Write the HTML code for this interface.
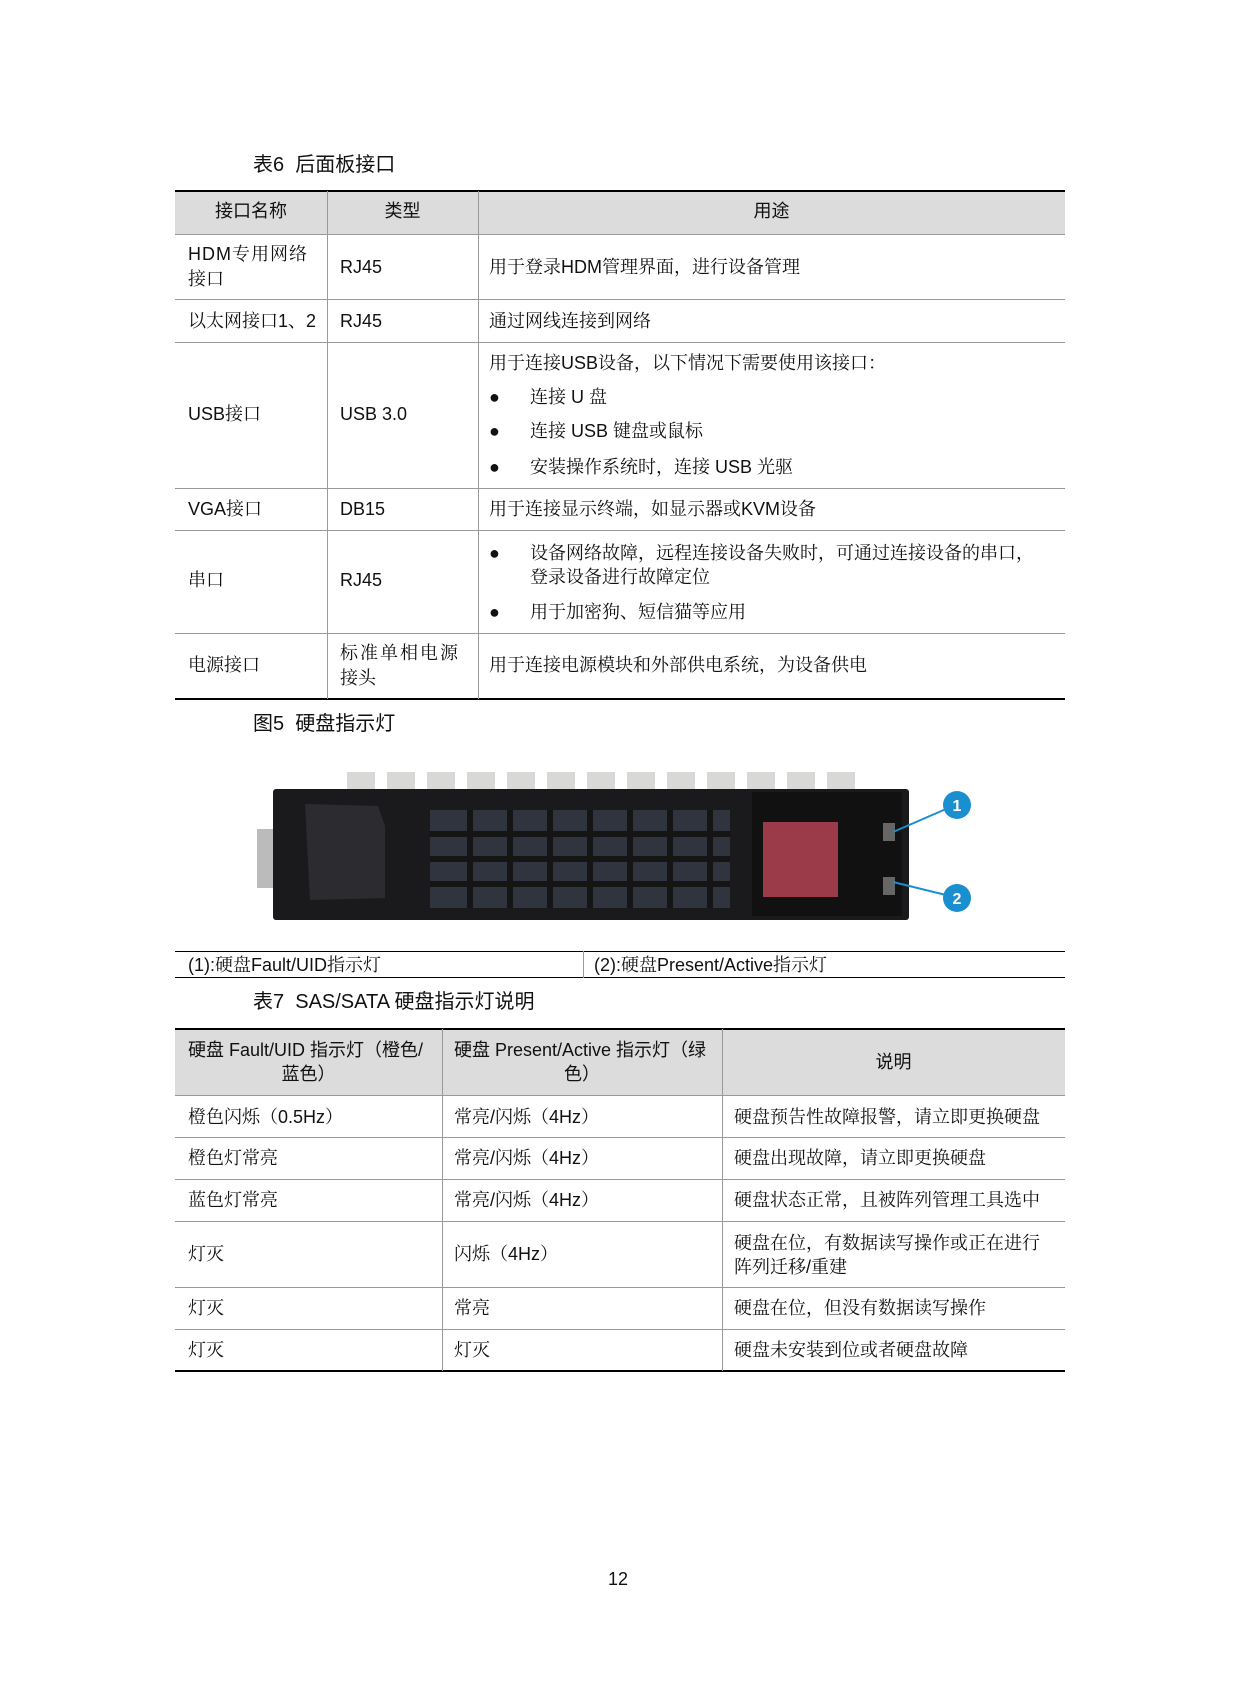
<!DOCTYPE html>
<html><head><meta charset="utf-8"><style>
body{margin:0;background:#fff;}
#p{position:relative;width:1240px;height:1683px;overflow:hidden;font-family:"Liberation Sans","Noto Serif CJK SC",serif;font-size:18px;color:#111;}
.t{position:absolute;white-space:nowrap;line-height:24px;height:24px;}
.h{font-family:"Liberation Sans","Noto Sans CJK SC",sans-serif;}
.ttl{position:absolute;font-family:"Liberation Sans","Noto Sans CJK SC",sans-serif;font-size:20px;line-height:26px;white-space:nowrap;}
.l{position:absolute;background:#999;}
.k{position:absolute;background:#000;}
.bg{position:absolute;background:#dcdcdc;}
</style></head><body><div id="p">

<div class="ttl" style="left:253px;top:152px;">表6&nbsp; 后面板接口</div>
<div class="bg" style="left:175px;top:191px;width:890px;height:43px;"></div>
<div class="k" style="left:175px;top:190px;width:890px;height:2px;"></div>
<div class="l" style="left:175px;top:234px;width:890px;height:1px;"></div>
<div class="l" style="left:175px;top:299px;width:890px;height:1px;"></div>
<div class="l" style="left:175px;top:342px;width:890px;height:1px;"></div>
<div class="l" style="left:175px;top:488px;width:890px;height:1px;"></div>
<div class="l" style="left:175px;top:530px;width:890px;height:1px;"></div>
<div class="l" style="left:175px;top:633px;width:890px;height:1px;"></div>
<div class="k" style="left:175px;top:698px;width:890px;height:2px;"></div>
<div class="l" style="left:327px;top:191px;width:1px;height:508px;"></div>
<div class="l" style="left:478px;top:191px;width:1px;height:508px;"></div>

<div class="t h" style="left:175px;width:152px;text-align:center;top:199px;">接口名称</div>
<div class="t h" style="left:327px;width:151px;text-align:center;top:199px;">类型</div>
<div class="t h" style="left:478px;width:587px;text-align:center;top:199px;">用途</div>

<div class="t" style="left:188px;top:242px;letter-spacing:1px;">HDM专用网络</div>
<div class="t" style="left:188px;top:267px;">接口</div>
<div class="t" style="left:340px;top:255px;">RJ45</div>
<div class="t" style="left:489px;top:255px;">用于登录HDM管理界面，进行设备管理</div>

<div class="t" style="left:188px;top:309px;">以太网接口1、2</div>
<div class="t" style="left:340px;top:309px;">RJ45</div>
<div class="t" style="left:489px;top:309px;">通过网线连接到网络</div>

<div class="t" style="left:188px;top:402px;">USB接口</div>
<div class="t" style="left:340px;top:402px;">USB 3.0</div>
<div class="t" style="left:489px;top:351px;">用于连接USB设备，以下情况下需要使用该接口：</div>
<div class="t" style="left:489px;top:385px;">●</div><div class="t" style="left:530px;top:385px;">连接 U 盘</div>
<div class="t" style="left:489px;top:419px;">●</div><div class="t" style="left:530px;top:419px;">连接 USB 键盘或鼠标</div>
<div class="t" style="left:489px;top:455px;">●</div><div class="t" style="left:530px;top:455px;">安装操作系统时，连接 USB 光驱</div>

<div class="t" style="left:188px;top:497px;">VGA接口</div>
<div class="t" style="left:340px;top:497px;">DB15</div>
<div class="t" style="left:489px;top:497px;">用于连接显示终端，如显示器或KVM设备</div>

<div class="t" style="left:188px;top:568px;">串口</div>
<div class="t" style="left:340px;top:568px;">RJ45</div>
<div class="t" style="left:489px;top:541px;">●</div><div class="t" style="left:530px;top:541px;">设备网络故障，远程连接设备失败时，可通过连接设备的串口，</div>
<div class="t" style="left:530px;top:565px;">登录设备进行故障定位</div>
<div class="t" style="left:489px;top:600px;">●</div><div class="t" style="left:530px;top:600px;">用于加密狗、短信猫等应用</div>

<div class="t" style="left:188px;top:653px;">电源接口</div>
<div class="t" style="left:340px;top:641px;letter-spacing:2px;">标准单相电源</div>
<div class="t" style="left:340px;top:666px;">接头</div>
<div class="t" style="left:489px;top:653px;">用于连接电源模块和外部供电系统，为设备供电</div>

<div class="ttl" style="left:253px;top:711px;">图5&nbsp; 硬盘指示灯</div>

<svg style="position:absolute;left:0;top:0" width="1240" height="1683">
 <g fill="#d8d8d6">
  <rect x="347" y="772" width="28" height="18"/><rect x="387" y="772" width="28" height="18"/><rect x="427" y="772" width="28" height="18"/><rect x="467" y="772" width="28" height="18"/><rect x="507" y="772" width="28" height="18"/><rect x="547" y="772" width="28" height="18"/><rect x="587" y="772" width="28" height="18"/><rect x="627" y="772" width="28" height="18"/><rect x="667" y="772" width="28" height="18"/><rect x="707" y="772" width="28" height="18"/><rect x="747" y="772" width="28" height="18"/><rect x="787" y="772" width="28" height="18"/><rect x="827" y="772" width="28" height="18"/>
 </g>
 <rect x="257" y="829" width="18" height="59" fill="#bbb"/>
 <rect x="273" y="789" width="636" height="131" rx="3" fill="#1a1a1c"/>
 <path d="M305 804 L378 806 L385 826 L385 898 L310 900 Z" fill="#2c2c30"/>
 <rect x="430" y="810" width="300" height="98" fill="#30343f"/>
 <g fill="none" stroke="#151515" stroke-width="6">
  <path d="M430 859 h300 M430 834 h300 M430 884 h300"/>
  <path d="M470 810 v98 M510 810 v98 M550 810 v98 M590 810 v98 M630 810 v98 M670 810 v98 M710 810 v98"/>
 </g>
 <rect x="752" y="792" width="150" height="124" fill="#111"/>
 <rect x="763" y="822" width="75" height="75" fill="#9b3b4a"/>
 <rect x="883" y="823" width="12" height="18" fill="#666"/>
 <rect x="883" y="877" width="12" height="18" fill="#666"/>
 <g stroke="#1a8fd0" stroke-width="2"><line x1="893" y1="832" x2="946" y2="809"/><line x1="893" y1="882" x2="946" y2="895"/></g>
 <circle cx="957" cy="805" r="14" fill="#1a8fd0"/><circle cx="957" cy="898" r="14" fill="#1a8fd0"/>
 <text x="957" y="811" font-family="Liberation Sans" font-weight="bold" font-size="16" fill="#fff" text-anchor="middle">1</text>
 <text x="957" y="904" font-family="Liberation Sans" font-weight="bold" font-size="16" fill="#fff" text-anchor="middle">2</text>
</svg>

<div class="k" style="left:175px;top:951px;width:890px;height:1px;"></div>
<div class="k" style="left:175px;top:977px;width:890px;height:1px;"></div>
<div class="l" style="left:583px;top:951px;width:1px;height:27px;"></div>
<div class="t" style="left:188px;top:953px;">(1):硬盘Fault/UID指示灯</div>
<div class="t" style="left:594px;top:953px;">(2):硬盘Present/Active指示灯</div>

<div class="ttl" style="left:253px;top:989px;">表7&nbsp; SAS/SATA 硬盘指示灯说明</div>
<div class="bg" style="left:175px;top:1029px;width:890px;height:66px;"></div>
<div class="k" style="left:175px;top:1028px;width:890px;height:2px;"></div>
<div class="l" style="left:175px;top:1095px;width:890px;height:1px;"></div>
<div class="l" style="left:175px;top:1137px;width:890px;height:1px;"></div>
<div class="l" style="left:175px;top:1179px;width:890px;height:1px;"></div>
<div class="l" style="left:175px;top:1221px;width:890px;height:1px;"></div>
<div class="l" style="left:175px;top:1287px;width:890px;height:1px;"></div>
<div class="l" style="left:175px;top:1329px;width:890px;height:1px;"></div>
<div class="k" style="left:175px;top:1370px;width:890px;height:2px;"></div>
<div class="l" style="left:442px;top:1029px;width:1px;height:342px;"></div>
<div class="l" style="left:722px;top:1029px;width:1px;height:342px;"></div>

<div class="t h" style="left:188px;top:1038px;">硬盘 Fault/UID 指示灯（橙色/</div>
<div class="t h" style="left:175px;width:267px;text-align:center;top:1062px;">蓝色）</div>
<div class="t h" style="left:454px;top:1038px;">硬盘 Present/Active 指示灯（绿</div>
<div class="t h" style="left:442px;width:280px;text-align:center;top:1062px;">色）</div>
<div class="t h" style="left:722px;width:343px;text-align:center;top:1050px;">说明</div>

<div class="t" style="left:188px;top:1105px;">橙色闪烁（0.5Hz）</div>
<div class="t" style="left:454px;top:1105px;">常亮/闪烁（4Hz）</div>
<div class="t" style="left:734px;top:1105px;">硬盘预告性故障报警，请立即更换硬盘</div>
<div class="t" style="left:188px;top:1146px;">橙色灯常亮</div>
<div class="t" style="left:454px;top:1146px;">常亮/闪烁（4Hz）</div>
<div class="t" style="left:734px;top:1146px;">硬盘出现故障，请立即更换硬盘</div>
<div class="t" style="left:188px;top:1188px;">蓝色灯常亮</div>
<div class="t" style="left:454px;top:1188px;">常亮/闪烁（4Hz）</div>
<div class="t" style="left:734px;top:1188px;">硬盘状态正常，且被阵列管理工具选中</div>
<div class="t" style="left:188px;top:1242px;">灯灭</div>
<div class="t" style="left:454px;top:1242px;">闪烁（4Hz）</div>
<div class="t" style="left:734px;top:1231px;">硬盘在位，有数据读写操作或正在进行</div>
<div class="t" style="left:734px;top:1255px;">阵列迁移/重建</div>
<div class="t" style="left:188px;top:1296px;">灯灭</div>
<div class="t" style="left:454px;top:1296px;">常亮</div>
<div class="t" style="left:734px;top:1296px;">硬盘在位，但没有数据读写操作</div>
<div class="t" style="left:188px;top:1338px;">灯灭</div>
<div class="t" style="left:454px;top:1338px;">灯灭</div>
<div class="t" style="left:734px;top:1338px;">硬盘未安装到位或者硬盘故障</div>

<div class="t h" style="left:600px;width:36px;text-align:center;top:1567px;">12</div>
</div></body></html>
